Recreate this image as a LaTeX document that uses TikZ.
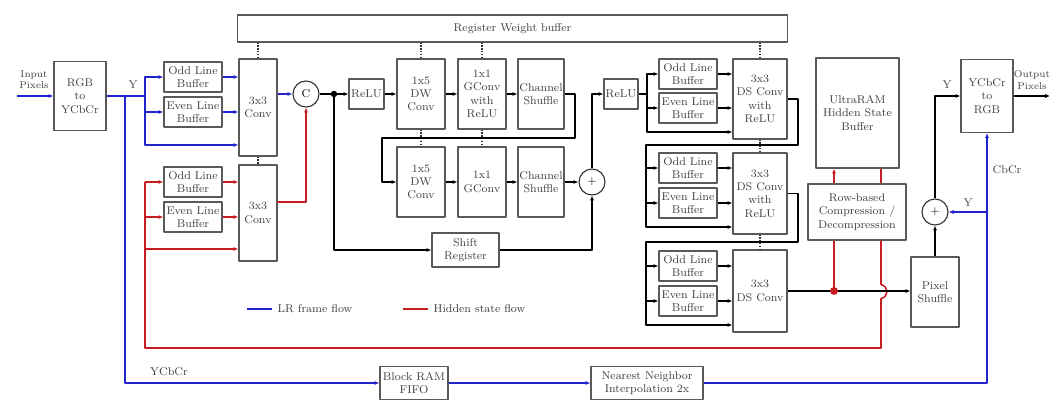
\documentclass[tikz,border=0pt]{standalone}
\usepackage{tikz}
\usetikzlibrary{arrows.meta,calc}
\definecolor{lrblue}{RGB}{35,35,205}
\definecolor{hsred}{RGB}{200,30,35}

\begin{document}
\begin{tikzpicture}[x=0.025cm,y=-0.025cm,line join=round,
    box/.style={draw=black!65,line width=0.8pt,rectangle,align=center,inner sep=1pt,font=\footnotesize,text=black!75},
    lbuf/.style={box,minimum width=1.45cm,minimum height=0.75cm},
    dsbox/.style={box,minimum width=1.35cm},
    sumnode/.style={draw=black!80,line width=0.8pt,circle,minimum size=0.65cm,inner sep=0pt,font=\footnotesize},
    flow/.style={line width=1.1pt,-{Latex[length=3.5pt,width=3pt]}},
    wire/.style={line width=1.1pt},
    wdot/.style={densely dotted,line width=1pt,black!80},
    lbl/.style={font=\footnotesize,text=black!75},
    smalllbl/.style={font=\scriptsize,align=center,inner sep=0pt,text=black!75}]
  \useasboundingbox (0,0) rectangle (1051,400);

  % blocks
  \node[box,minimum width=13.725cm,minimum height=0.675cm] (reg) at (512.5,28.5) {Register Weight buffer};
  \node[box,minimum width=1.3cm,minimum height=1.725cm] (rgb) at (80,96) {RGB\\to\\YCbCr};
  \node[lbuf] (oddA) at (193,77) {Odd Line\\Buffer};
  \node[lbuf] (evenA) at (193,112) {Even Line\\Buffer};
  \node[box,minimum width=0.95cm,minimum height=2.425cm] (convA) at (258,107.5) {3x3\\Conv};
  \node[lbuf] (oddB) at (193,182) {Odd Line\\Buffer};
  \node[lbuf] (evenB) at (193,217) {Even Line\\Buffer};
  \node[box,minimum width=0.95cm,minimum height=2.4cm] (convB) at (258,213) {3x3\\Conv};
  \node[sumnode] (cat) at (306,94) {C};
  \coordinate (split) at (334,94);
  \node[box,minimum width=0.875cm,minimum height=0.75cm] (relu1) at (366.5,94) {ReLU};
  \node[box,minimum width=1.2cm,minimum height=1.75cm] (dw1) at (421,94) {1x5\\DW\\Conv};
  \node[box,minimum width=1.2cm,minimum height=1.75cm] (gc1) at (482,94) {1x1\\GConv\\with\\ReLU};
  \node[box,minimum width=1.15cm,minimum height=1.75cm] (cs1) at (541,94) {Channel\\Shuffle};
  \node[box,minimum width=1.2cm,minimum height=1.75cm] (dw2) at (421,182) {1x5\\DW\\Conv};
  \node[box,minimum width=1.2cm,minimum height=1.75cm] (gc2) at (482,182) {1x1\\GConv};
  \node[box,minimum width=1.15cm,minimum height=1.75cm] (cs2) at (541,182) {Channel\\Shuffle};
  \node[sumnode] (plus1) at (592,182) {$+$};
  \node[box,minimum width=1.675cm,minimum height=0.85cm] (shift) at (465.5,250) {Shift\\Register};
  \node[box,minimum width=0.85cm,minimum height=0.75cm] (relu2) at (621,94) {ReLU};

  \node[lbuf] (oddC) at (688,74) {Odd Line\\Buffer};
  \node[lbuf] (evenC) at (688,108) {Even Line\\Buffer};
  \node[dsbox,minimum height=2cm] (dsA) at (760,99) {3x3\\DS Conv\\with\\ReLU};
  \node[lbuf] (oddD) at (688,168) {Odd Line\\Buffer};
  \node[lbuf] (evenD) at (688,203) {Even Line\\Buffer};
  \node[dsbox,minimum height=2.025cm] (dsB) at (760,193.5) {3x3\\DS Conv\\with\\ReLU};
  \node[lbuf] (oddE) at (688,266) {Odd Line\\Buffer};
  \node[lbuf] (evenE) at (688,301) {Even Line\\Buffer};
  \node[dsbox,minimum height=2.05cm] (dsC) at (760,291) {3x3\\DS Conv};

  \node[box,minimum width=2.075cm,minimum height=2.75cm] (ultra) at (857.5,113) {UltraRAM\\Hidden State\\Buffer};
  \node[box,minimum width=2.45cm,minimum height=1.4cm] (comp) at (857,212) {Row-based\\Compression /\\Decompression};
  \node[box,minimum width=1.2cm,minimum height=1.75cm] (pix) at (935,292) {Pixel\\Shuffle};
  \node[sumnode] (plus2) at (935,212) {$+$};
  \node[box,minimum width=1.3cm,minimum height=1.825cm] (ycc) at (987,96) {YCbCr\\to\\RGB};
  \node[box,minimum width=1.7cm,minimum height=0.825cm] (bram) at (414,383) {Block RAM\\FIFO};
  \node[box,minimum width=2.8cm,minimum height=0.825cm] (nn) at (647,383) {Nearest Neighbor\\Interpolation 2x};

  % labels
  \node[smalllbl] (inlbl) at (34,80) {Input\\Pixels};
  \node[smalllbl] (outlbl) at (1032,80) {Output\\Pixels};
  \node[lbl] (ylblA) at (133,85) {Y};
  \node[lbl] (ylblB) at (947,85) {Y};
  \node[lbl] (ylblC) at (968,203) {Y};
  \node[lbl] (cbcrlbl) at (1007,170) {CbCr};
  \node[lbl] (ycclbl) at (169,372) {YCbCr};

  % weight buffer links
  \draw[wdot] (reg.south -| convA) -- (convA.north);
  \draw[wdot] (convA.south) -- (convB.north);
  \draw[wdot] (reg.south -| dw1) -- (dw1.north);
  \draw[wdot] (dw1.south) -- (dw2.north);
  \draw[wdot] (reg.south -| gc1) -- (gc1.north);
  \draw[wdot] (gc1.south) -- (gc2.north);
  \draw[wdot] (reg.south -| dsA) -- (dsA.north);
  \draw[wdot] (dsA.south) -- (dsB.north);
  \draw[wdot] (dsB.south) -- (dsC.north);

  % LR frame flow
  \coordinate (in) at (17,96);
  \coordinate (yb) at (145,96);
  \coordinate (yb3) at (145,145);
  \coordinate (yv) at (125,96);
  \draw[flow,lrblue] (in) -- (rgb);
  \draw[wire,lrblue] (rgb.east) -- (yb);
  \draw[flow,lrblue] (yb) |- (oddA);
  \draw[flow,lrblue] (yb) |- (evenA);
  \draw[flow,lrblue] (yb) -- (yb3) -- (yb3 -| convA.west);
  \draw[flow,lrblue] (oddA) -- (oddA -| convA.west);
  \draw[flow,lrblue] (evenA) -- (evenA -| convA.west);
  \draw[flow,lrblue] (convA.east |- cat) -- (cat);
  \draw[flow,lrblue] (yv) |- (bram);
  \draw[flow,lrblue] (bram) -- (nn);
  \draw[flow,lrblue] (nn.east) -| (ycc.south);
  \draw[flow,lrblue] (ycc.south |- plus2) -- (plus2);

  % hidden state flow
  \coordinate (hx) at (881,0);
  \coordinate (hb) at (145,348);
  \coordinate (h3) at (145,249);
  \coordinate (hc) at (277,202);
  \coordinate (cdot) at (834,291);
  \draw[wire,hsred] (ultra.south -| hx) -- (comp.north -| hx);
  \draw[wire,hsred] (comp.south -| hx) -- ++(0,44) .. controls +(8,2) and +(8,-2) .. ++(0,14) -- (hx |- hb) -- (hb) -- (hb |- oddB);
  \draw[flow,hsred] (hb |- oddB) -- (oddB);
  \draw[flow,hsred] (hb |- evenB) -- (evenB);
  \draw[flow,hsred] (h3) -- (h3 -| convB.west);
  \draw[flow,hsred] (oddB) -- (oddB -| convB.west);
  \draw[flow,hsred] (evenB) -- (evenB -| convB.west);
  \draw[flow,hsred] (hc) -| (cat.south);
  \draw[wire,hsred] (cdot) -- (cdot |- comp.south);
  \draw[flow,hsred] (cdot |- comp.north) -- (cdot |- ultra.south);

  % main path
  \coordinate (lp1) at (575,138);
  \coordinate (lp2) at (382,138);
  \draw[flow] (cat) -- (relu1);
  \fill (split) circle[radius=2.3pt];
  \draw[flow] (relu1) -- (dw1);
  \draw[flow] (dw1) -- (gc1);
  \draw[flow] (gc1) -- (cs1);
  \draw[flow] (cs1.east) -| (lp1) -- (lp2) |- (dw2.west);
  \draw[flow] (dw2) -- (gc2);
  \draw[flow] (gc2) -- (cs2);
  \draw[flow] (cs2) -- (plus1);
  \draw[flow] (split) |- (shift);
  \draw[flow] (shift) -| (plus1);
  \draw[flow] (plus1) |- (relu2);

  % DS conv stages
  \coordinate (g1) at (647,94);
  \coordinate (g1b) at (647,132);
  \draw[wire] (relu2.east) -- (g1);
  \draw[flow] (g1) |- (oddC);
  \draw[flow] (g1) |- (evenC);
  \draw[flow] (g1) -- (g1b) -- (g1b -| dsA.west);
  \draw[flow] (oddC) -- (oddC -| dsA.west);
  \draw[flow] (evenC) -- (evenC -| dsA.west);

  \coordinate (r1) at (798,145);
  \coordinate (g2) at (646,145);
  \coordinate (g2b) at (646,227);
  \draw[flow] (dsA.east) -| (r1) -- (g2) -- (g2b) -- (g2b -| dsB.west);
  \draw[flow] (g2) |- (oddD);
  \draw[flow] (g2) |- (evenD);
  \draw[flow] (oddD) -- (oddD -| dsB.west);
  \draw[flow] (evenD) -- (evenD -| dsB.west);

  \coordinate (r2) at (798,242);
  \coordinate (g3) at (646,242);
  \coordinate (g3b) at (646,325);
  \draw[flow] (dsB.east) -| (r2) -- (g3) -- (g3b) -- (g3b -| dsC.west);
  \draw[flow] (g3) |- (oddE);
  \draw[flow] (g3) |- (evenE);
  \draw[flow] (oddE) -- (oddE -| dsC.west);
  \draw[flow] (evenE) -- (evenE -| dsC.west);

  % output side
  \coordinate (out) at (1050,96);
  \draw[flow] (dsC.east) -- (dsC.east -| pix.west);
  \fill[hsred] (cdot) circle[radius=2.8pt];
  \draw[flow] (pix) -- (plus2);
  \draw[flow] (plus2) |- (ycc);
  \draw[flow] (ycc) -- (out);

  % legend
  \coordinate (lgA) at (247,309);
  \coordinate (lgB) at (403,309);
  \draw[line width=1.3pt,lrblue] (lgA) -- ++(25,0) node[right,lbl] (lgAt) {LR frame flow};
  \draw[line width=1.3pt,hsred] (lgB) -- ++(25,0) node[right,lbl] (lgBt) {Hidden state flow};
\end{tikzpicture}
\end{document}
